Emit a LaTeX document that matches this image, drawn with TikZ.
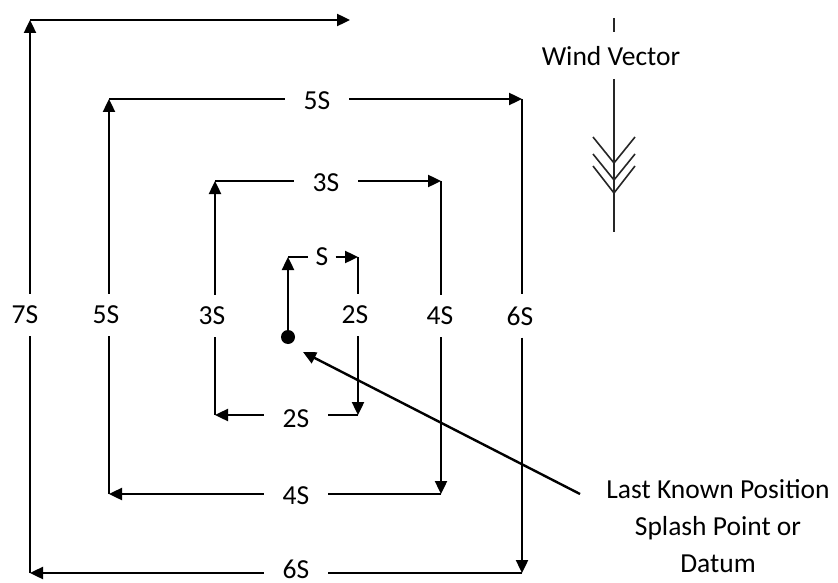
\documentclass[tikz,border=0pt]{standalone}
\usepackage{fontspec}
\setmainfont{Carlito}
\usetikzlibrary{arrows.meta}

\begin{document}
\begin{tikzpicture}[x=1pt,y=-1pt]
    \tikzset{seg/.style={line width=2.4pt},
      leg/.style={seg,-{Triangle[length=13pt,width=12pt]}},
      vane/.style={line width=1.6pt,black!85},
      lbl/.style={inner xsep=19pt,inner ysep=12pt,font=\fontsize{27.5}{37}\selectfont}}
    \useasboundingbox (0,0) rectangle (838,583);
    % corners of the expanding square
    \coordinate (p1) at (288,257);
    \coordinate (p2) at (358,257);
    \coordinate (p3) at (358,415);
    \coordinate (p4) at (215,415);
    \coordinate (p5) at (215,181);
    \coordinate (p6) at (441,181);
    \coordinate (p7) at (441,494);
    \coordinate (p8) at (109,494);
    \coordinate (p9) at (109,99);
    \coordinate (p10) at (522,99);
    \coordinate (p11) at (522,573);
    \coordinate (p12) at (30,573);
    \coordinate (p13) at (30,20);
    \coordinate (p14) at (350,20);
    \node[circle,fill,inner sep=0pt,minimum size=14pt] (dot) at (288,337) {};
    % leg labels
    \node[lbl,inner xsep=7pt] (ls) at (322,257) {S};
    \node[lbl] (l2v) at (355,315) {2S};
    \node[lbl] (l2h) at (296,419) {2S};
    \node[lbl] (l3v) at (212,316) {3S};
    \node[lbl] (l3h) at (326,183) {3S};
    \node[lbl] (l4v) at (440,316) {4S};
    \node[lbl] (l4h) at (296,496) {4S};
    \node[lbl] (l5v) at (106,315) {5S};
    \node[lbl] (l5h) at (317,101) {5S};
    \node[lbl] (l6v) at (520,316) {6S};
    \node[lbl,inner ysep=1pt] (l6h) at (296,569) {6S};
    \node[lbl] (l7v) at (25,315) {7S};
    % legs
    \draw[leg] (dot.center) -- (p1);
    \draw[seg] (p1) -- (p1 -| ls.west);
    \draw[leg] (p1 -| ls.east) -- (p2);
    \draw[seg] (p2) -- (p2 |- l2v.north);
    \draw[leg] (p2 |- l2v.south) -- (p3);
    \draw[seg] (p3) -- (p3 -| l2h.east);
    \draw[leg] (p3 -| l2h.west) -- (p4);
    \draw[seg] (p4) -- (p4 |- l3v.south);
    \draw[leg] (p4 |- l3v.north) -- (p5);
    \draw[seg] (p5) -- (p5 -| l3h.west);
    \draw[leg] (p5 -| l3h.east) -- (p6);
    \draw[seg] (p6) -- (p6 |- l4v.north);
    \draw[leg] (p6 |- l4v.south) -- (p7);
    \draw[seg] (p7) -- (p7 -| l4h.east);
    \draw[leg] (p7 -| l4h.west) -- (p8);
    \draw[seg] (p8) -- (p8 |- l5v.south);
    \draw[leg] (p8 |- l5v.north) -- (p9);
    \draw[seg] (p9) -- (p9 -| l5h.west);
    \draw[leg] (p9 -| l5h.east) -- (p10);
    \draw[seg] (p10) -- (p10 |- l6v.north);
    \draw[leg] (p10 |- l6v.south) -- (p11);
    \draw[seg] (p11) -- (p11 -| l6h.east);
    \draw[leg] (p11 -| l6h.west) -- (p12);
    \draw[seg] (p12) -- (p12 |- l7v.south);
    \draw[leg] (p12 |- l7v.north) -- (p13);
    \draw[leg] (p13) -- (p14);
    % wind vector
    \node[lbl] (wind) at (611,56) {Wind Vector};
    \coordinate (wtop) at (614,18);
    \coordinate (wbot) at (614,232);
    \draw[vane] (wtop) -- (614,32);
    \draw[vane] (614,79) -- (wbot);
    \foreach \v/\t in {163/137,180/154,193/166}
      \draw[vane] (593,\t) -- (614,\v) -- (635,\t);
    % datum
    \node[lbl,align=center,inner sep=0pt] (lkp) at (718,526) {Last Known Position\\Splash Point or\\Datum};
    \coordinate (lead) at (580,494);
    \coordinate (aim) at (303,352);
    \draw[leg] (lead) -- (aim);
  \end{tikzpicture}
\end{document}
